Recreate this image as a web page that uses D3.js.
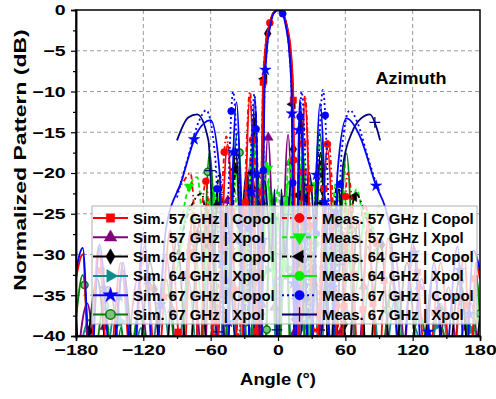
<!DOCTYPE html>
<html>
<head>
<meta charset="utf-8">
<script src="https://cdnjs.cloudflare.com/ajax/libs/d3/7.8.5/d3.min.js"></script>
<style>
  body { margin: 0; background: #fff; }
  text { font-family: Arial, "Liberation Sans", sans-serif; font-weight: bold; }
</style>
</head>
<body>
<div id="chart"></div>
<script>
// values, [angle in deg, level in dB]; nulls sit below the -40 floor
const simCo57 = [[-180,-33],[-174,-30],[-168,-45],[-160,-29],[-151,-45],[-140,-31],[-130,-45],[-119,-29],[-108,-45],[-96,-27],[-85,-45],[-76,-25],[-70,-45],[-64,-23.7],[-56,-45],[-45,-16.5],[-34,-45],[-25,-10.7],[-17,-45],[-13.5,-10],[-11.5,-5],[-8,-2],[-4,-0.4],[0,0],[4,-0.4],[8,-2],[11.5,-5],[13.5,-10],[17,-45],[24,-11],[33,-45],[44,-17],[55,-45],[64,-24],[72,-45],[80,-26],[89,-45],[98,-28],[110,-45],[121,-29],[133,-45],[145,-31],[155,-45],[166,-30],[172,-45],[176,-31],[180,-33]];
const simX57 = [[-180,-45],[-170,-36],[-160,-45],[-150,-34],[-138,-45],[-125,-33],[-112,-45],[-100,-30],[-88,-45],[-78,-27],[-66,-45],[-60,-26],[-53,-45],[-44,-23],[-34,-45],[-25,-19],[-17,-45],[-9,-15.5],[0,-45],[9,-15.3],[17,-45],[25,-19.5],[34,-45],[44,-24],[53,-45],[62,-27],[70,-45],[80,-29],[92,-45],[104,-30],[116,-45],[128,-33],[140,-45],[152,-34],[162,-45],[172,-36],[180,-45]];
const simCo64 = [[-180,-37.5],[-175,-45],[-161,-33],[-150,-45],[-138,-32],[-126,-45],[-114,-31],[-102,-45],[-90,-28],[-80,-45],[-70,-26],[-62,-45],[-53,-22],[-46,-45],[-38,-17],[-28,-45],[-20,-12.8],[-15.5,-45],[-13,-9],[-11,-5],[-8,-2],[-4,-0.4],[0,0],[4,-0.4],[8,-2],[11,-5],[13,-9],[15.5,-45],[20,-12.5],[28,-45],[38,-17.5],[46,-45],[54,-22],[62,-45],[71,-26],[80,-45],[91,-28],[102,-45],[115,-31],[126,-45],[139,-32],[150,-45],[162,-33],[172,-45],[180,-37.5]];
const simX64 = [[-180,-45],[-168,-38],[-156,-45],[-144,-36],[-132,-45],[-122,-39],[-116,-45],[-104,-35],[-92,-45],[-80,-33],[-70,-45],[-62,-31],[-54,-45],[-44,-29],[-36,-45],[-29,-26.5],[-24,-45],[-19,-28],[-13,-45],[-7,-28],[0,-45],[7,-28],[13,-45],[20,-27.8],[25,-45],[31,-26.5],[37,-45],[45,-29],[54,-45],[63,-31],[71,-45],[82,-33],[93,-45],[105,-35],[116,-45],[122,-39],[132,-45],[145,-36],[156,-45],[168,-38],[180,-45]];
const simCo67 = [[-180,-32],[-174,-29.2],[-167,-45],[-159,-28.8],[-148,-45],[-138,-31],[-130,-45],[-120,-27.4],[-110,-45],[-100,-27],[-86,-21],[-72,-15],[-60,-13.5],[-52,-20],[-47,-45],[-37,-11.3],[-28,-45],[-20.5,-10.8],[-15,-45],[-12,-10],[-10,-5],[-7,-2],[-3.5,-0.3],[0,0],[3.5,-0.3],[7,-2],[10,-5],[12,-10],[15,-45],[19.5,-11],[28,-45],[37.5,-11.5],[48,-45],[53,-20],[61,-13.3],[73,-15.5],[86,-21],[100,-27],[110,-45],[120,-28.5],[130,-45],[139,-31],[148,-45],[160,-29],[167,-45],[174,-29.5],[180,-32]];
const simX67 = [[-180,-38],[-174,-32.5],[-166,-45],[-155,-36],[-146,-45],[-140,-39],[-134,-45],[-124,-37],[-112,-45],[-100,-33],[-88,-45],[-76,-26],[-70,-45],[-61,-17.5],[-50,-45],[-36,-15],[-26,-45],[-18,-20],[-12,-45],[-6,-22],[0,-45],[6,-23],[12,-45],[19,-21],[26,-45],[37,-15],[49,-45],[61,-17.6],[72,-45],[80,-27],[90,-45],[102,-33],[114,-45],[126,-37],[138,-45],[146,-39],[154,-45],[164,-34],[172,-45],[177,-33],[180,-38]];
const measCo57 = [[-90,-22.3],[-84,-21],[-78,-20],[-72,-28],[-64,-21],[-57,-40],[-46,-15.5],[-35,-40],[-25,-10],[-17,-40],[-13.5,-9.5],[-11.5,-4.7],[-8,-2],[-4,-0.3],[0,0],[4,-0.4],[8,-2.5],[10.7,-6],[13,-11],[17,-40],[24,-10.5],[33,-40],[45,-16],[55,-40],[62,-20],[70,-27],[78,-24],[84,-30],[90,-27]];
const measX57 = [[-90,-30],[-80,-22],[-72,-20.5],[-64,-30],[-55,-22],[-48,-32],[-40,-20],[-32,-35],[-22,-15],[-16,-30],[-10,-18.5],[-5,-27],[0,-22],[5,-27],[10,-18],[15,-30],[22,-17],[29,-35],[36,-16],[44,-32],[52,-21],[60,-30],[70,-22],[80,-28],[90,-24]];
const measCo64 = [[-90,-30],[-80,-25],[-68,-22.5],[-60,-30],[-52,-20],[-45,-35],[-36,-17],[-28,-38],[-20,-12.5],[-15,-38],[-12.5,-9],[-10.5,-5],[-7.5,-2],[-4,-0.4],[0,0],[4,-0.4],[7.5,-2],[10.5,-5],[12.5,-9],[15,-38],[20,-12.5],[28,-38],[36,-17.5],[45,-35],[53,-21],[60,-30],[69,-22.5],[80,-26],[90,-30]];
const measX64 = [[-90,-32],[-78,-24],[-68,-35],[-58,-22],[-48,-35],[-38,-19],[-30,-36],[-22,-17],[-15,-33],[-9,-21],[-4,-33],[0,-25],[4,-33],[9,-21],[15,-33],[22,-18],[30,-36],[38,-19],[48,-35],[58,-22],[68,-35],[78,-25],[90,-31]];
const measCo67 = [[-90,-23],[-80,-18],[-70,-13.5],[-64,-12.3],[-56,-18],[-49,-38],[-40,-10],[-30,-38],[-21,-10.3],[-15,-38],[-12,-10],[-10,-5],[-7,-2],[-3.5,-0.3],[0,0],[3.5,-0.3],[7,-2],[10,-5],[12,-10],[15,-38],[21,-10],[30,-38],[40,-9.8],[50,-38],[57,-17],[64,-12.3],[71,-13.9],[80,-18],[89,-22]];
const measX67 = [[-90,-16],[-80,-13.2],[-72,-12.8],[-62,-16],[-54,-40],[-46,-24],[-38,-40],[-28,-20],[-20,-40],[-12,-21],[-6,-30],[-3,-22],[0,-45],[3,-22],[6,-30],[12,-21],[20,-40],[28,-20],[38,-40],[46,-24],[52,-40],[58,-19],[66,-15],[74,-13.3],[82,-12.8],[88,-14.5],[91,-16]];

const xTicks = [-180, -120, -60, 0, 60, 120, 180];
const yTicks = [0, -5, -10, -15, -20, -25, -30, -35, -40];

const W = 496, H = 399;
const x = d3.scaleLinear().domain([-180, 180]).range([76, 480]);
const y = d3.scaleLinear().domain([-40, 0]).range([336, 10]);

const svg = d3.select("#chart").append("svg")
  .attr("width", W).attr("height", H);

svg.append("defs").append("clipPath").attr("id", "plot")
  .append("rect").attr("x", 76).attr("y", 10).attr("width", 404).attr("height", 326);

// grid
const grid = svg.append("g").attr("stroke", "#9a9a9a").attr("stroke-dasharray", "4,3").attr("stroke-width", 1);
xTicks.slice(1, -1).forEach(function (t) {
  grid.append("line").attr("x1", x(t)).attr("x2", x(t)).attr("y1", y(0)).attr("y2", y(-40));
});
yTicks.slice(1, -1).forEach(function (t) {
  grid.append("line").attr("x1", x(-180)).attr("x2", x(180)).attr("y1", y(t)).attr("y2", y(t));
});

const series = [
  { name: "Sim. 57 GHz | Copol", data: simCo57, color: "#ff0000", dash: null, sym: d3.symbolSquare, rot: 0, fill: "#ff0000" },
  { name: "Sim. 57 GHz | Xpol", data: simX57, color: "#800080", dash: null, sym: d3.symbolTriangle, rot: 0, fill: "#800080" },
  { name: "Sim. 64 GHz | Copol", data: simCo64, color: "#000000", dash: null, sym: d3.symbolDiamond, rot: 0, fill: "#000000" },
  { name: "Sim. 64 GHz | Xpol", data: simX64, color: "#108c8c", dash: null, sym: d3.symbolTriangle, rot: 90, fill: "#108c8c" },
  { name: "Sim. 67 GHz | Copol", data: simCo67, color: "#0000ff", dash: null, sym: d3.symbolStar, rot: 0, fill: "#0000ff" },
  { name: "Sim. 67 GHz | Xpol", data: simX67, color: "#008000", dash: null, sym: d3.symbolCircle, rot: 0, fill: "#80c080" },
  { name: "Meas. 57 GHz | Copol", data: measCo57, color: "#ff0000", dash: "5,3,1.5,3", sym: d3.symbolCircle, rot: 0, fill: "#ff0000" },
  { name: "Meas. 57 GHz | Xpol", data: measX57, color: "#00ee00", dash: "5,3", sym: d3.symbolTriangle, rot: 180, fill: "#00ee00" },
  { name: "Meas. 64 GHz | Copol", data: measCo64, color: "#000000", dash: "5,3,1.5,3", sym: d3.symbolTriangle, rot: -90, fill: "#000000" },
  { name: "Meas. 64 GHz | Xpol", data: measX64, color: "#00ee00", dash: null, sym: d3.symbolCircle, rot: 0, fill: "#00ee00" },
  { name: "Meas. 67 GHz | Copol", data: measCo67, color: "#0000ff", dash: "2,3", sym: d3.symbolCircle, rot: 0, fill: "#0000ff" },
  { name: "Meas. 67 GHz | Xpol", data: measX67, color: "#000080", dash: null, sym: d3.symbolPlus || d3.symbolCross, rot: 0, fill: "none" }
];

const line = d3.line()
  .x(function (d) { return x(d[0]); })
  .y(function (d) { return y(d[1]); })
  .curve(d3.curveMonotoneX);

function marker(g, s, cx, cy, size) {
  const isPlus = s.fill === "none";
  g.append("path")
    .attr("d", d3.symbol().type(s.sym).size(size)())
    .attr("transform", "translate(" + cx + "," + cy + ") rotate(" + s.rot + ")")
    .attr("fill", isPlus ? "none" : s.fill)
    .attr("stroke", s.color)
    .attr("stroke-width", isPlus ? 1.3 : (s.sym === d3.symbolCircle && s.fill !== s.color ? 1.5 : 0.5));
}

const plot = svg.append("g").attr("clip-path", "url(#plot)");
const order = [1, 3, 5, 7, 9, 11, 2, 8, 0, 6, 4, 10];
order.forEach(function (i, k) {
  const s = series[i];
  const p = plot.append("path")
    .attr("d", line(s.data))
    .attr("fill", "none")
    .attr("stroke", s.color)
    .attr("stroke-width", 1.8)
    .attr("stroke-dasharray", s.dash);
  const node = p.node(), L = node.getTotalLength();
  for (let l = 30 + k * 13; l < L; l += 170) {
    const pt = node.getPointAtLength(l);
    if (pt.y > y(-40) - 2 || pt.y < y(0) || pt.x < x(-180) || pt.x > x(180)) continue;
    marker(plot, s, pt.x, pt.y, 40);
  }
});

// frame
svg.append("rect").attr("x", 76).attr("y", 10).attr("width", 404).attr("height", 326)
  .attr("fill", "none").attr("stroke", "#000").attr("stroke-width", 1.5);

// axes
svg.append("g").attr("transform", "translate(0," + y(-40) + ")")
  .call(d3.axisBottom(x).tickValues(xTicks).tickSize(5).tickPadding(3).tickFormat(d3.format("d")));
svg.append("g").attr("transform", "translate(0," + y(-40) + ")")
  .call(d3.axisBottom(x).tickValues(d3.range(-150, 180, 60)).tickSize(3).tickFormat(""));
svg.append("g").attr("transform", "translate(" + x(-180) + ",0)")
  .call(d3.axisLeft(y).tickValues(yTicks).tickSize(5).tickPadding(3).tickFormat(d3.format("d")));
svg.append("g").attr("transform", "translate(" + x(-180) + ",0)")
  .call(d3.axisLeft(y).tickValues(d3.range(-37.5, 0, 5)).tickSize(3).tickFormat(""));
svg.selectAll(".domain").attr("stroke-width", 1.5);
svg.selectAll(".tick line").attr("stroke-width", 1.2);
svg.selectAll(".tick text").attr("font-size", 15).attr("fill", "#000")
  .attr("transform", "scale(1.3,1)")
  .style("font-family", "Arial, 'Liberation Sans', sans-serif").style("font-weight", "bold");

svg.append("text").attr("transform", "translate(278,385) scale(1.15,1)").attr("text-anchor", "middle")
  .attr("font-size", 16).text("Angle (°)");
svg.append("text").attr("transform", "translate(26,160) rotate(-90) scale(1.35,1)").attr("text-anchor", "middle")
  .attr("font-size", 17).text("Normalized Pattern (dB)");
svg.append("text").attr("transform", "translate(411,84) scale(1.06,1)").attr("text-anchor", "middle")
  .attr("font-size", 17).text("Azimuth");

// legend
const lg = svg.append("g");
lg.append("rect").attr("x", 92).attr("y", 206).attr("width", 385).attr("height", 118)
  .attr("fill", "#fff").attr("fill-opacity", 0.78).attr("stroke", "#b0b0b0").attr("stroke-width", 1);
series.forEach(function (s, i) {
  const col = i < 6 ? 0 : 1, row = i % 6;
  const x0 = col === 0 ? 93 : 282, cy = 218 + row * 19.3;
  lg.append("line").attr("x1", x0).attr("x2", x0 + 35).attr("y1", cy).attr("y2", cy)
    .attr("stroke", s.color).attr("stroke-width", 2).attr("stroke-dasharray", s.dash);
  marker(lg, s, x0 + 17.5, cy, 70);
  lg.append("text").attr("x", x0 + 40).attr("y", cy + 5.5).attr("font-size", 15).attr("fill", "#000").text(s.name);
});
</script>
</body>
</html>
